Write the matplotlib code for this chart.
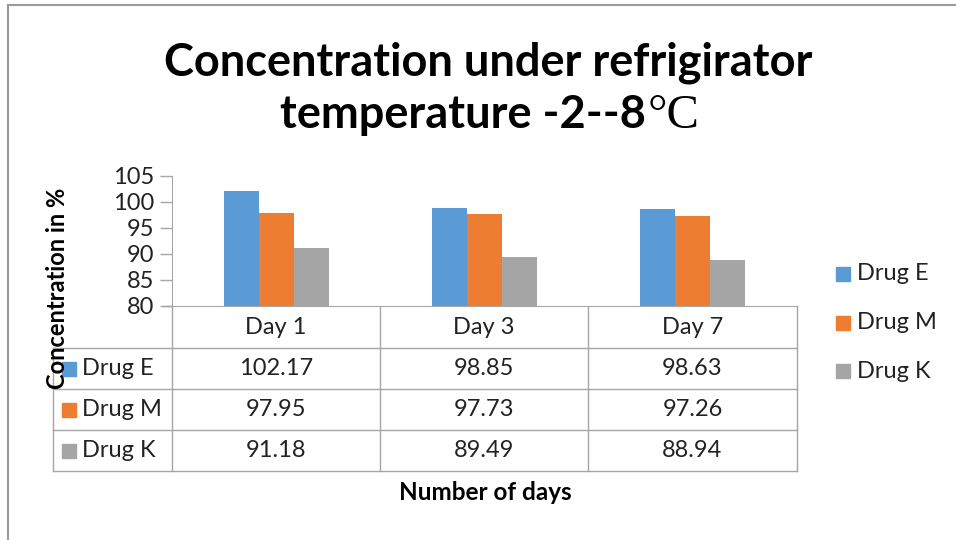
import matplotlib
matplotlib.use("Agg")
from matplotlib import pyplot as plt
from matplotlib.lines import Line2D
from matplotlib.patches import Rectangle
import numpy as np

# données
days = ['Day 1', 'Day 3', 'Day 7']
drugs = ['Drug E', 'Drug M', 'Drug K']
drug_e = [102.17, 98.85, 98.63]
drug_m = [97.95, 97.73, 97.26]
drug_k = [91.18, 89.49, 88.94]
colors = ['#5B9BD5', '#ED7D31', '#A5A5A5']
y_ticks = [80, 85, 90, 95, 100, 105]

W, H = 956, 540
police = 'Lato'
grid_col = '#A6A6A6'
txt_col = '#222222'

fig = plt.figure(figsize=(W / 100, H / 100), dpi=100)

# calque en pixels pour le texte et le tableau
over = fig.add_axes([0, 0, 1, 1])
over.set_xlim(0, W)
over.set_ylim(H, 0)
over.axis('off')

# axe principal (position en pixels)
x0, x1, y_top, y_bot = 172, 797, 176, 306
ax = fig.add_axes([x0 / W, (H - y_bot) / H, (x1 - x0) / W, (y_bot - y_top) / H])
ax.set_zorder(2)
ax.patch.set_alpha(0)

series = [drug_e, drug_m, drug_k]
x = np.arange(len(days))
w = 0.168
for i, vals in enumerate(series):
    ax.bar(x + (i - 1) * w, np.array(vals) - 80, bottom=80, width=w,
           color=colors[i], edgecolor='none')
ax.set_xlim(-0.5, len(days) - 0.5)
ax.set_ylim(80, 105)
ax.set_yticks(y_ticks)
ax.set_yticklabels([str(t) for t in y_ticks], fontsize=17, family=police,
                   color=txt_col)
ax.tick_params(axis='y', length=9, color=grid_col, width=1, pad=4)
ax.set_xticks([])
for s in ['top', 'right']:
    ax.spines[s].set_visible(False)
ax.spines['left'].set_color(grid_col)
ax.spines['bottom'].set_color(grid_col)

# cadre extérieur
over.add_line(Line2D([8, W], [5, 5], color='#9A9A9A', lw=1.5))
over.add_line(Line2D([8, 8], [5, H], color='#9A9A9A', lw=1.5))

# tableau de données
col_x = [172, 380, 588, 797]
row_y = [306, 348, 389, 430, 471]
left = 53
for yy in row_y[1:]:
    over.add_line(Line2D([left, col_x[-1]], [yy, yy], color=grid_col, lw=1))
over.add_line(Line2D([163, 172], [306, 306], color=grid_col, lw=1))
over.add_line(Line2D([left, left], [row_y[1], row_y[-1]], color=grid_col, lw=1))
for cx in col_x:
    over.add_line(Line2D([cx, cx], [row_y[0], row_y[-1]], color=grid_col, lw=1))

for j, d in enumerate(days):
    cx = (col_x[j] + col_x[j + 1]) / 2
    over.text(cx, (row_y[0] + row_y[1]) / 2, d, ha='center', va='center',
              fontsize=17, family=police, color=txt_col)
for i, vals in enumerate(series):
    cy = (row_y[i + 1] + row_y[i + 2]) / 2
    over.add_patch(Rectangle((62, cy - 7), 14, 14, color=colors[i]))
    over.text(82, cy, drugs[i], ha='left', va='center', fontsize=17,
              family=police, color=txt_col)
    for j, v in enumerate(vals):
        cx = (col_x[j] + col_x[j + 1]) / 2
        over.text(cx, cy, f'{v:.2f}', ha='center', va='center',
                  fontsize=17, family=police, color=txt_col)

# légende
for i, d in enumerate(drugs):
    ly = 274 + i * 48.5
    over.add_patch(Rectangle((836, ly - 7), 14, 14, color=colors[i]))
    over.text(857, ly, d, ha='left', va='center', fontsize=17,
              family=police, color=txt_col)

# titres
over.text(488, 75, 'Concentration under refrigirator', ha='center',
          va='baseline', fontsize=32.5, fontweight='bold', family=police)
t2 = over.text(0, 128, 'temperature -2--8', ha='left', va='baseline',
               fontsize=32.5, fontweight='bold', family=police)
t3 = over.text(0, 128, '°C', ha='left', va='baseline', fontsize=35,
               family='Liberation Serif')
fig.canvas.draw()
inv = over.transData.inverted()
b2 = t2.get_window_extent().transformed(inv)
b3 = t3.get_window_extent().transformed(inv)
total = (b2.x1 - b2.x0) + 2 + (b3.x1 - b3.x0)
start = 490 - total / 2
t2.set_x(start)
t3.set_x(start + (b2.x1 - b2.x0) + 2)

over.text(58, 288, 'Concentration in %', rotation=90, ha='center',
          va='center', fontsize=17, fontweight='bold', family=police)
over.text(485, 493, 'Number of days', ha='center', va='center',
          fontsize=17.5, fontweight='bold', family=police)

fig.savefig('out.png', dpi=100)
